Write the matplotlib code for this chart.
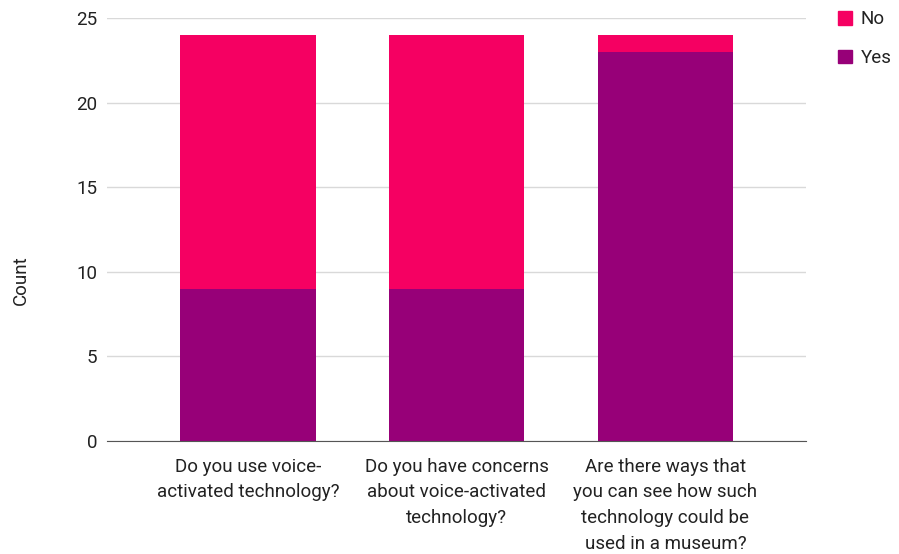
import matplotlib
matplotlib.use("Agg")
import matplotlib.pyplot as plt
from matplotlib.patches import Patch

categories = ["Do you use voice-\nactivated technology?",
              "Do you have concerns\nabout voice-activated\ntechnology?",
              "Are there ways that\nyou can see how such\ntechnology could be\nused in a museum?"]
yes_vals = [9, 9, 23]
no_vals = [15, 15, 1]
yticks = [0, 5, 10, 15, 20, 25]

c_no = "#F50062"
c_yes = "#970078"
txt = "#222222"

plt.rcParams['font.family'] = ['Roboto', 'DejaVu Sans']

fig = plt.figure(figsize=(8.99, 5.54), dpi=100)
ax = fig.add_axes([0.119, 0.204, 0.7775, 0.7635])
x = list(range(len(categories)))
ax.bar(x, yes_vals, width=0.65, color=c_yes, zorder=3)
ax.bar(x, no_vals, bottom=yes_vals, width=0.65, color=c_no, zorder=3)

ax.set_xlim(-0.676, 2.674)
ax.set_ylim(0, 25)
ax.set_yticks(yticks)
ax.yaxis.grid(True, color="#d9d9d9", linewidth=1, zorder=0)
for s in ["top", "right", "left"]:
    ax.spines[s].set_visible(False)
ax.spines["bottom"].set_color("#555555")
ax.spines["bottom"].set_zorder(4)
ax.tick_params(axis="both", length=0, labelsize=13.5, colors=txt)
ax.tick_params(axis="x", pad=12)
ax.tick_params(axis="y", pad=7)
ax.set_xticks(x)
ax.set_xticklabels(categories, linespacing=1.55)
ax.set_ylabel("Count", fontsize=13.5, color=txt)
ax.yaxis.set_label_coords(-0.1106, 0.38)

handles = [Patch(color=c_no, label="No"), Patch(color=c_yes, label="Yes")]
fig.legend(handles=handles, loc="upper left", bbox_to_anchor=(0.917, 1.005),
           frameon=False, fontsize=13.5, handlelength=0.75, handleheight=0.75,
           handletextpad=0.5, labelspacing=1.1, labelcolor=txt,
           borderaxespad=0.3)

fig.savefig("out.png", dpi=100)
